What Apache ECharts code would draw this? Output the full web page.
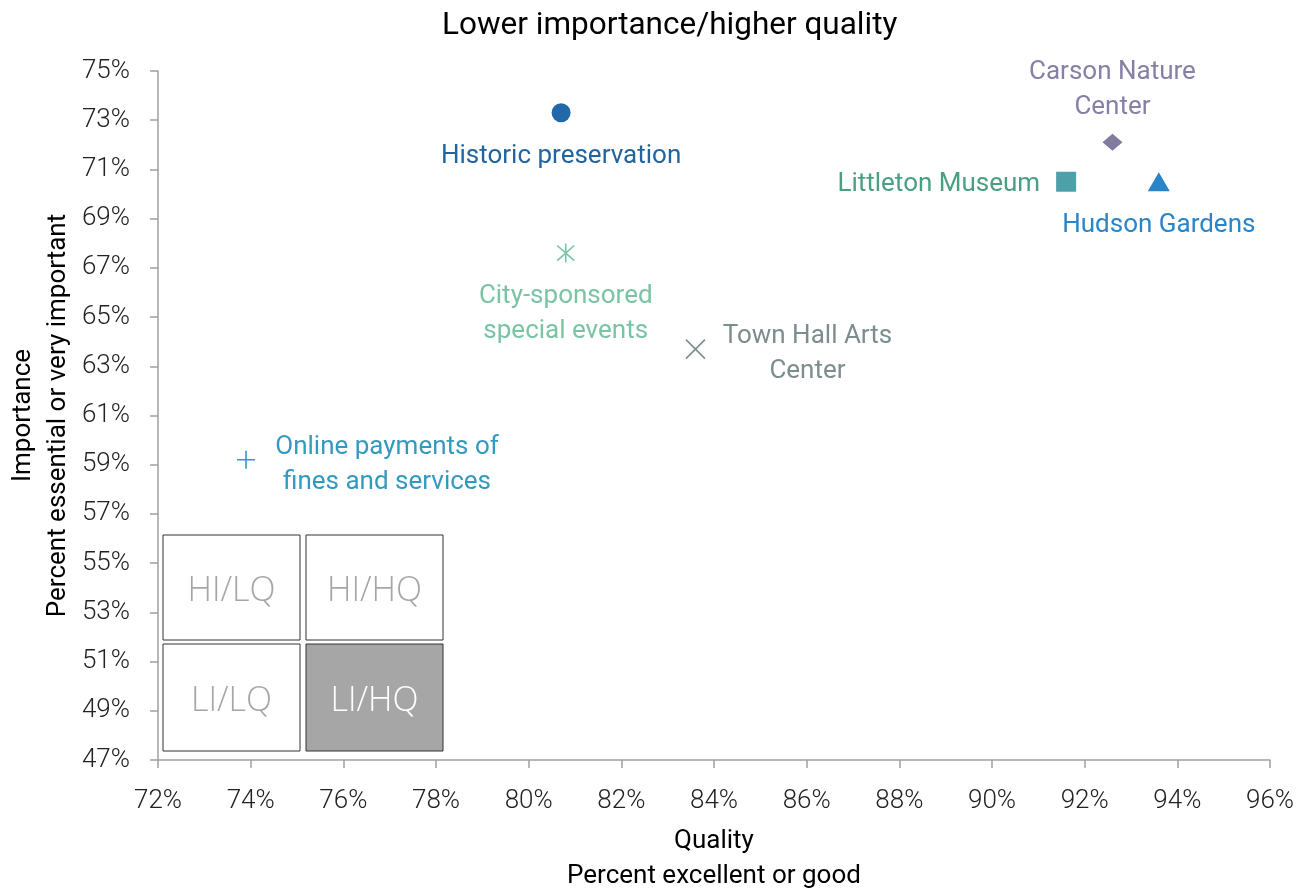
<!DOCTYPE html>
<html>
<head>
<meta charset="utf-8">
<title>Lower importance/higher quality</title>
<script src="https://cdn.jsdelivr.net/npm/echarts@6/dist/echarts.min.js"></script>
<style>
  html, body { margin: 0; padding: 0; background: #fff; }
  #main { width: 1309px; height: 892px; }
</style>
</head>
<body>
<div id="main"></div>
<script>
// data
var names = [
  'Historic preservation',
  'Carson Nature\nCenter',
  'Littleton Museum',
  'Hudson Gardens',
  'City-sponsored\nspecial events',
  'Town Hall Arts\nCenter',
  'Online payments of\nfines and services'
]
var quality = [80.7, 92.6, 91.6, 93.6, 80.8, 83.6, 73.9]
var importance = [73.3, 72.1, 70.5, 70.5, 67.6, 63.7, 59.2]
var xTicks = [72, 96, 2]
var yTicks = [47, 75, 2]

var markerColors = ['#2168a8', '#807b9f', '#4ea0a8', '#2a84c8', '#7ac4a4', '#7d8d8f', '#3399bf']
var labelColors = ['#23649e', '#8580a5', '#4b9e83', '#2a84c8', '#7ac4a4', '#7d8d8f', '#3399bf']

var asterisk = 'path://M10,0L10,20M1,2L19,18M19,2L1,18'
var xmark = 'path://M0,0L20,20M20,0L0,20'
var plus = 'path://M10,0L10,20M0,10L20,10'

var markers = [
  { symbol: 'circle', size: 19, line: false },
  { symbol: 'diamond', size: [20, 17], line: false },
  { symbol: 'rect', size: 20, line: false },
  { symbol: 'triangle', size: [22, 19], line: false },
  { symbol: asterisk, size: 19, line: true },
  { symbol: xmark, size: 19, line: true },
  { symbol: plus, size: 18, line: true }
]
var labelPos = [
  { position: 'inside', offset: [0, 44] },
  { position: 'inside', offset: [0, -52] },
  { position: 'left', distance: 16, offset: [0, 3] },
  { position: 'inside', offset: [0, 44] },
  { position: 'inside', offset: [0, 61] },
  { position: 'inside', offset: [112, 5] },
  { position: 'inside', offset: [141, 5] }
]

var font = 'Roboto'
var series = names.map(function (n, i) {
  var m = markers[i]
  var item = m.line
    ? { color: 'rgba(0,0,0,0)', borderColor: markerColors[i], borderWidth: 1.6, opacity: 1 }
    : { color: markerColors[i], opacity: 1 }
  return {
    type: 'scatter',
    name: n,
    symbol: m.symbol,
    symbolSize: m.size,
    symbolKeepAspect: true,
    itemStyle: item,
    label: Object.assign({
      show: true,
      formatter: n,
      color: labelColors[i],
      fontFamily: font,
      fontSize: 26,
      lineHeight: 35,
      align: 'center',
      verticalAlign: 'middle'
    }, labelPos[i], i === 2 ? { align: 'right' } : {}),
    emphasis: { disabled: true },
    data: [[quality[i], importance[i]]]
  }
})

function box(x, y, w, h, txt, filled) {
  return [{
    type: 'rect',
    shape: { x: x, y: y, width: w, height: h },
    style: { fill: filled ? '#a6a6a6' : '#fff', stroke: '#333', lineWidth: 1 },
    z: 10
  }, {
    type: 'text',
    x: x + w / 2,
    y: y + h / 2 + 4,
    style: {
      text: txt,
      fontFamily: 'Open Sans',
      fontWeight: 300,
      fontSize: 34,
      fill: filled ? '#fff' : '#a6a6a6',
      align: 'center',
      verticalAlign: 'middle'
    },
    z: 11
  }]
}

var myChart = echarts.init(document.getElementById('main'))
var option = {
  animation: false,
  title: {
    text: 'Lower importance/higher quality',
    left: 437,
    top: 5,
    textStyle: { fontFamily: font, fontSize: 31.5, fontWeight: 'normal', color: '#000' }
  },
  grid: { left: 158, right: 39, top: 71, bottom: 132, outerBoundsMode: 'none' },
  xAxis: {
    type: 'value',
    min: xTicks[0],
    max: xTicks[1],
    interval: xTicks[2],
    name: 'Quality\nPercent excellent or good',
    nameLocation: 'middle',
    nameGap: 64,
    nameMoveOverlap: false,
    nameTextStyle: { fontFamily: font, fontSize: 26, color: '#000', lineHeight: 35, verticalAlign: 'top' },
    splitLine: { show: false },
    axisLine: { lineStyle: { color: '#a0a0a0', width: 1.5 } },
    axisTick: { length: 8, lineStyle: { color: '#a0a0a0', width: 1.5 } },
    axisLabel: {
      margin: 28,
      fontFamily: font,
      fontWeight: 300,
      fontSize: 26,
      color: '#222',
      formatter: '{value}%'
    }
  },
  yAxis: {
    type: 'value',
    min: yTicks[0],
    max: yTicks[1],
    interval: yTicks[2],
    name: 'Importance\nPercent essential or very important',
    nameLocation: 'middle',
    nameRotate: 90,
    nameGap: 82,
    nameMoveOverlap: false,
    nameTextStyle: { fontFamily: font, fontSize: 26, color: '#000', lineHeight: 35 },
    splitLine: { show: false },
    axisLine: { lineStyle: { color: '#a0a0a0', width: 1.5 } },
    axisTick: { length: 8, lineStyle: { color: '#a0a0a0', width: 1.5 } },
    axisLabel: {
      margin: 28,
      fontFamily: font,
      fontWeight: 300,
      fontSize: 26,
      color: '#222',
      formatter: '{value}%'
    }
  },
  graphic: [].concat(
    box(163, 535, 137, 105, 'HI/LQ', false),
    box(306, 535, 137, 105, 'HI/HQ', false),
    box(163, 644, 137, 107, 'LI/LQ', false),
    box(306, 644, 137, 107, 'LI/HQ', true)
  ),
  series: series
}
myChart.setOption(option)
</script>
</body>
</html>
